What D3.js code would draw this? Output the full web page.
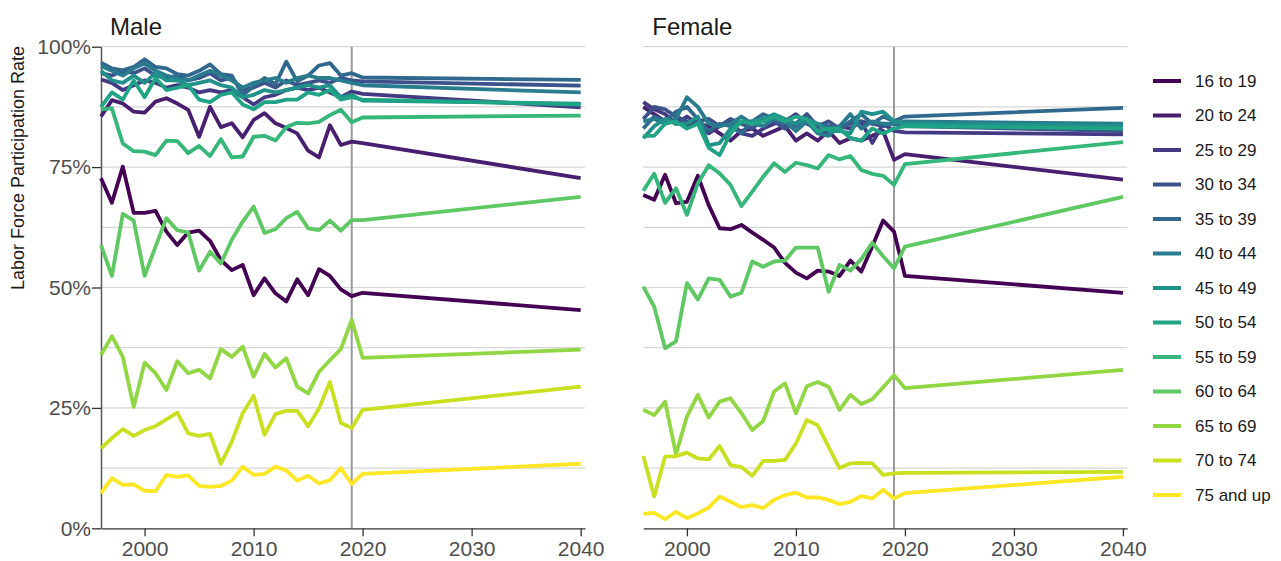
<!DOCTYPE html>
<html>
<head>
<meta charset="utf-8">
<script src="https://cdn.jsdelivr.net/npm/d3@7"></script>
<style>
  body { margin: 0; background: #fff; }
  svg { display: block; font-family: "Liberation Sans", Arial, sans-serif; }
</style>
</head>
<body>
<svg id="chart" width="1281" height="561"></svg>
<script>
// Years: observed 1996-2019, projections for 2020 and 2040
const years = [1996,1997,1998,1999,2000,2001,2002,2003,2004,2005,2006,2007,2008,2009,2010,2011,2012,2013,2014,2015,2016,2017,2018,2019,2020,2040];
const ageGroups = ["16 to 19","20 to 24","25 to 29","30 to 34","35 to 39","40 to 44","45 to 49","50 to 54","55 to 59","60 to 64","65 to 69","70 to 74","75 and up"];
const xTicks = [2000, 2010, 2020, 2030, 2040];
const yTicks = [0, 25, 50, 75, 100];
const panelTitles = ["Male", "Female"];
const projectionStart = 2019;

// Labor force participation rate (%), men
const male16to19 = [72.7,67.6,75.1,65.5,65.5,65.9,61.6,58.8,61.4,61.8,59.7,55.7,53.6,54.7,48.4,51.9,48.8,47.1,51.7,48.4,53.8,52.4,49.6,48.2,48.9,45.3];
const male20to24 = [85.5,88.9,88.2,86.5,86.3,88.6,89.3,88.2,86.9,81.3,87.5,83.3,84.1,81.2,84.8,86.2,84.1,83.1,82.0,78.4,77.0,83.7,79.6,80.3,80.0,72.7];
const male25to29 = [93.2,92.5,91.0,92.0,93.0,92.5,91.5,92.0,91.5,90.5,91.0,90.5,91.0,89.5,88.0,89.5,90.0,91.0,91.5,91.0,91.5,90.5,89.5,90.7,90.2,87.4];
const male30to34 = [94.5,94.0,95.0,94.5,95.5,94.0,93.5,94.0,93.0,93.5,94.5,93.0,93.5,91.0,91.5,92.5,91.5,93.0,92.0,92.5,93.0,92.5,93.5,93.0,92.8,91.9];
const male35to39 = [96.7,95.5,95.1,95.8,97.4,95.8,95.5,94.3,94.0,95.0,96.3,94.3,94.0,89.9,91.8,93.5,92.2,96.9,92.8,94.0,96.1,96.6,94.0,94.5,93.6,93.1];
const male40to44 = [96.0,95.0,94.0,95.5,96.5,95.0,94.0,93.5,93.0,94.0,95.0,94.0,93.0,91.5,92.5,93.0,93.5,92.5,93.5,94.0,93.5,93.5,93.0,92.5,92.0,90.5];
const male45to49 = [95.0,93.0,92.5,94.0,92.5,94.5,93.0,93.0,92.0,92.5,93.0,92.0,91.5,89.5,90.0,91.0,90.5,91.0,91.5,92.0,91.5,92.0,89.5,90.0,88.8,88.2];
const male50to54 = [87.5,90.5,89.0,93.0,89.5,93.5,91.0,91.5,92.0,89.0,88.5,90.0,90.5,88.0,87.0,88.5,88.5,89.0,89.0,90.5,90.0,91.0,89.0,89.5,89.0,88.0];
const male55to59 = [87.0,87.2,79.9,78.3,78.2,77.5,80.5,80.4,77.9,79.4,77.3,80.8,77.0,77.2,81.3,81.5,80.5,83.3,84.2,84.1,84.4,85.8,86.9,84.3,85.3,85.7];
const male60to64 = [58.8,52.4,65.3,63.9,52.4,58.5,64.4,61.9,61.4,53.5,57.4,55.0,59.9,63.7,66.8,61.3,62.1,64.4,65.7,62.3,61.9,63.9,61.8,64.0,64.0,68.8];
const male65to69 = [36.0,39.9,35.6,25.2,34.4,32.2,28.7,34.7,32.2,32.9,31.1,37.2,35.6,37.7,31.5,36.2,33.4,35.3,29.4,28.0,32.5,34.9,37.2,43.3,35.4,37.1];
const male70to74 = [16.6,18.7,20.6,19.2,20.4,21.2,22.6,24.0,19.7,19.2,19.6,13.4,18.0,23.9,27.5,19.4,23.7,24.4,24.4,21.2,24.9,30.4,21.9,20.8,24.6,29.4];
const male75up   = [7.3,10.4,9.0,9.1,7.8,7.7,11.1,10.7,11.0,8.8,8.6,8.8,9.9,12.8,11.1,11.3,12.8,12.0,9.9,10.9,9.3,10.0,12.5,9.2,11.3,13.4];

// Labor force participation rate (%), women
const female16to19 = [69.2,68.2,73.4,67.5,67.8,73.2,67.1,62.3,62.1,63.0,61.4,59.9,58.3,55.1,53.1,51.9,53.5,53.3,52.4,55.6,53.3,58.5,63.9,61.6,52.4,48.9];
const female20to24 = [87.5,86.0,84.5,85.0,83.5,84.0,83.5,82.0,80.5,82.5,83.0,81.5,82.5,83.5,80.5,82.0,80.5,82.5,80.0,81.0,80.5,81.5,82.5,76.5,77.7,72.4];
const female25to29 = [88.5,87.0,86.0,84.0,85.5,84.0,82.0,83.5,84.5,82.0,81.5,83.0,84.0,84.5,86.0,84.0,83.0,82.0,83.5,83.0,84.5,80.0,84.0,82.5,82.2,81.8];
const female30to34 = [85.0,87.5,87.0,85.5,84.5,84.5,85.0,83.5,85.0,84.0,83.0,85.0,84.5,83.0,84.0,86.0,83.5,84.5,83.0,84.0,84.5,84.0,83.5,84.0,83.5,82.5];
const female35to39 = [83.0,85.5,84.5,86.5,87.5,85.0,82.5,84.0,83.5,82.0,84.5,86.0,85.0,84.0,83.5,84.5,84.0,83.5,83.0,84.5,86.0,84.0,85.5,84.5,85.5,87.3];
const female40to44 = [84.5,85.0,84.0,85.0,89.5,87.5,84.0,83.5,84.0,85.5,84.0,83.5,85.0,84.5,82.5,84.5,82.0,81.5,83.5,86.0,83.0,84.5,84.0,84.0,84.5,84.0];
const female45to49 = [81.0,83.5,85.0,84.0,84.0,85.5,79.5,80.0,83.0,84.5,84.5,85.0,86.0,85.0,84.0,85.0,84.0,82.5,82.5,82.0,86.5,86.0,86.5,84.5,84.0,83.5];
const female50to54 = [81.5,81.5,84.0,84.5,83.0,84.0,79.0,77.5,82.0,84.5,84.0,84.5,85.5,84.5,85.5,85.0,82.5,83.0,83.0,81.0,80.5,83.0,82.0,83.0,83.5,83.0];
const female55to59 = [70.1,73.6,67.6,70.6,65.1,71.6,75.4,73.7,71.3,66.9,69.9,73.0,75.8,74.0,75.9,75.4,74.7,77.5,76.6,77.3,74.4,73.6,73.2,71.3,75.6,80.2];
const female60to64 = [50.2,46.0,37.4,38.8,50.9,47.5,51.9,51.6,48.1,48.9,55.4,54.3,55.4,55.6,58.3,58.3,58.3,49.1,54.7,53.5,55.9,59.3,56.5,54.0,58.5,68.8];
const female65to69 = [24.6,23.5,26.3,15.4,23.2,27.7,23.0,26.3,27.0,23.9,20.4,22.3,28.4,30.1,23.9,29.5,30.4,29.4,24.6,27.7,25.8,26.8,29.3,31.8,29.1,32.9];
const female70to74 = [15.0,6.6,14.9,15.0,15.7,14.5,14.3,17.1,13.1,12.7,10.9,14.0,14.0,14.2,17.6,22.5,21.4,16.9,12.5,13.5,13.6,13.5,11.1,11.4,11.5,11.7];
const female75up   = [3.0,3.2,1.9,3.4,2.1,3.1,4.3,6.6,5.5,4.4,4.8,4.2,5.9,6.9,7.4,6.4,6.4,5.9,5.0,5.5,6.7,6.2,8.0,6.2,7.3,10.7];

const maleSeries = [male16to19, male20to24, male25to29, male30to34, male35to39, male40to44, male45to49, male50to54, male55to59, male60to64, male65to69, male70to74, male75up];
const femaleSeries = [female16to19, female20to24, female25to29, female30to34, female35to39, female40to44, female45to49, female50to54, female55to59, female60to64, female65to69, female70to74, female75up];

const svg = d3.select("#chart");
const color = d3.scaleOrdinal()
  .domain(ageGroups)
  .range(ageGroups.map((_, i) => d3.interpolateViridis(i / (ageGroups.length - 1))));

const plotTop = 46.7, plotBottom = 528.3;
const y = d3.scaleLinear().domain([0, 100]).range([plotBottom, plotTop]);
const panelLefts = [101, 643.3];
const panelWidth = 484;

const panels = [maleSeries, femaleSeries];

panels.forEach((seriesList, p) => {
  const left = panelLefts[p];
  const x = d3.scaleLinear().domain([1996, 2040.4]).range([left, left + panelWidth]);
  const g = svg.append("g");

  // horizontal gridlines at every eighth of the range
  const grid = d3.range(12.5, 100.1, 12.5);
  g.append("g").selectAll("line").data(grid).join("line")
    .attr("x1", left).attr("x2", left + panelWidth)
    .attr("y1", d => y(d)).attr("y2", d => y(d))
    .attr("stroke", "#d6d6d6").attr("stroke-width", 1.2);

  // start of projections
  g.append("line")
    .attr("x1", x(projectionStart)).attr("x2", x(projectionStart))
    .attr("y1", plotTop).attr("y2", plotBottom)
    .attr("stroke", "#9a9a9a").attr("stroke-width", 2);

  // x axis
  const xAxis = d3.axisBottom(x).tickValues(xTicks).tickFormat(d3.format("d")).tickSize(8).tickSizeOuter(0);
  const xg = g.append("g").attr("transform", `translate(0,${plotBottom})`).call(xAxis);
  xg.select(".domain").attr("stroke", "#333").attr("stroke-width", 1.3);
  xg.selectAll(".tick line").attr("stroke", "#333").attr("stroke-width", 1.3);
  xg.selectAll(".tick text").attr("fill", "#4d4d4d").attr("font-size", 21)
    .attr("font-family", "Liberation Sans, Arial, sans-serif").attr("dy", "0.78em");

  // y axis only on the first panel
  if (p === 0) {
    const yAxis = d3.axisLeft(y).tickValues(yTicks).tickFormat(d => d + "%").tickSize(9).tickSizeOuter(0);
    const yg = g.append("g").attr("transform", `translate(${left},0)`).call(yAxis);
    yg.select(".domain").attr("stroke", "#555").attr("stroke-width", 1.5);
    yg.selectAll(".tick line").attr("stroke", "#333").attr("stroke-width", 1.3);
    yg.selectAll(".tick text").attr("fill", "#4d4d4d").attr("font-size", 21)
      .attr("font-family", "Liberation Sans, Arial, sans-serif").attr("x", -10);
  }

  // series lines
  const line = d3.line().x((d, i) => x(years[i])).y(d => y(d));
  g.append("g").selectAll("path").data(seriesList).join("path")
    .attr("d", d => line(d))
    .attr("fill", "none")
    .attr("stroke", (d, i) => color(ageGroups[i]))
    .attr("stroke-width", 3.8)
    .attr("stroke-linejoin", "round")
    .attr("stroke-linecap", "butt");

  // panel title
  g.append("text")
    .attr("x", left + 9).attr("y", 35)
    .attr("font-size", 24).attr("fill", "#1a1a1a")
    .text(panelTitles[p]);
});

// y axis title
svg.append("text")
  .attr("transform", "translate(24,168) rotate(-90)")
  .attr("text-anchor", "middle")
  .attr("font-size", 18).attr("fill", "#1a1a1a")
  .text("Labor Force Participation Rate");

// legend
const legend = svg.append("g").attr("transform", "translate(1153,81)");
const rows = legend.selectAll("g").data(ageGroups).join("g")
  .attr("transform", (d, i) => `translate(0,${i * 34.5})`);
rows.append("line")
  .attr("x1", 0).attr("x2", 28).attr("y1", 0).attr("y2", 0)
  .attr("stroke", d => color(d)).attr("stroke-width", 4);
rows.append("text")
  .attr("x", 42).attr("y", 0).attr("dy", "0.35em")
  .attr("font-size", 17).attr("fill", "#1a1a1a")
  .text(d => d);
</script>
</body>
</html>
